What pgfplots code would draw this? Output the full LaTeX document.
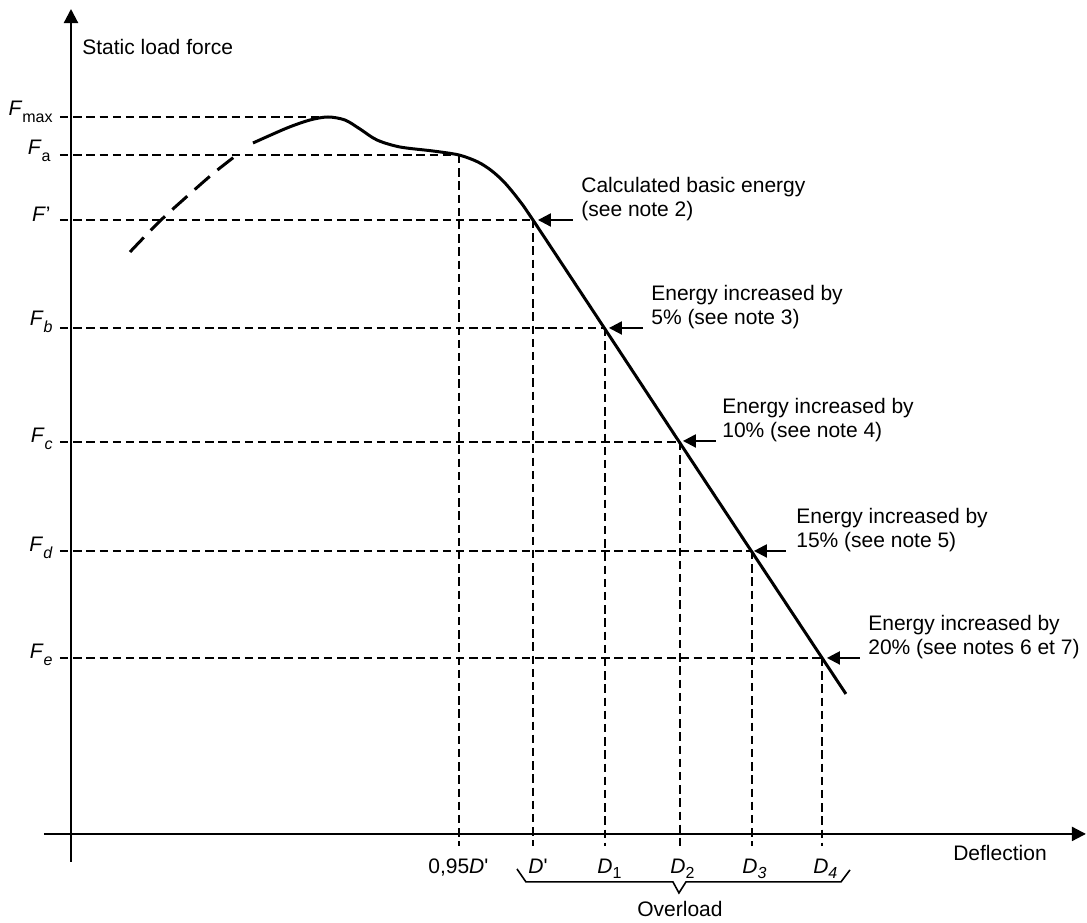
\documentclass[border=0pt]{standalone}
\usepackage{fontspec}
\setmainfont{Liberation Sans}
\usepackage{pgfplots}
\pgfplotsset{compat=1.18}
\usetikzlibrary{arrows.meta}
\newcommand{\Dq}{\textit{D}\textquotesingle}
\newcommand{\fsub}[1]{\raisebox{-3.4pt}{\fontsize{8pt}{8pt}\selectfont #1}}
\newcommand{\dsub}[1]{\raisebox{-2.2pt}{\fontsize{8pt}{8pt}\selectfont #1}}
\begin{document}
\begin{tikzpicture}[
    font=\fontsize{10.5pt}{12pt}\selectfont,
    guide/.style={line width=1pt, dash pattern=on 4.2pt off 2.4pt},
    note/.style={line width=1.1pt, -{Triangle[length=6.5pt,width=6.5pt]}},
    txt/.style={anchor=base west, align=left, inner sep=0pt},
]
\begin{axis}[
    hide axis,
    x=0.5pt, y=0.5pt, y dir=reverse,
    xmin=0, xmax=1087, ymin=0, ymax=923,
    clip=false,
    every axis plot/.append style={black, no markers},
]
% canvas
\addplot[draw=none] coordinates {(0,0) (1087,923)};

% axes
\addplot[line width=1.1pt, -{Triangle[length=7pt,width=7pt]}] coordinates {(71,862) (71,9)};
\addplot[line width=1.1pt, -{Triangle[length=7pt,width=7pt]}] coordinates {(44,834) (1086,834)};

% horizontal guides
\addplot[guide] coordinates {(60,117) (330,117)};
\addplot[guide] coordinates {(60,155) (459,155)};
\addplot[guide] coordinates {(60,220) (533,220)};
\addplot[guide] coordinates {(60,328) (605,328)};
\addplot[guide] coordinates {(60,442) (680,442)};
\addplot[guide] coordinates {(60,551) (752,551)};
\addplot[guide] coordinates {(60,658) (822,658)};

% vertical guides
\addplot[guide] coordinates {(459,155) (459,846)};
\addplot[guide] coordinates {(533,220) (533,846)};
\addplot[guide] coordinates {(605,328) (605,846)};
\addplot[guide] coordinates {(680,442) (680,846)};
\addplot[guide] coordinates {(752,551) (752,846)};
\addplot[guide] coordinates {(822,658) (822,846)};

% load curve, dashed start
\addplot[line width=1.5pt, smooth, dash pattern=on 10pt off 5pt] coordinates {
    (130,252) (160,221) (192,192) (215,172) (238,154)};
% load curve, solid
\addplot[line width=1.5pt, smooth, tension=0.5] coordinates {
    (253,143) (287,128) (310,120) (328,117) (345,120) (360,129) (377,140)
    (400,147) (433,151) (459,155) (478,162) (492,171) (505,183) (519,200)
    (533,220) (605,329) (680,443) (752,552) (846,694)};

% note arrows
\addplot[note] coordinates {(573,220) (538,220)};
\addplot[note] coordinates {(643,328) (609,328)};
\addplot[note] coordinates {(716,441) (683,441)};
\addplot[note] coordinates {(786,551) (754,551)};
\addplot[note] coordinates {(860,658) (827,658)};

% overload brace
\addplot[line width=0.8pt] coordinates {
    (517,869) (526,882) (673,882) (679,893) (686,882) (841,882) (850,870)};

% texts
\node[txt] at (axis cs:82,54) {Static load force};
\node[txt] at (axis cs:953,861) {Deflection};
\node[anchor=base, inner sep=0pt] at (axis cs:680,917) {Overload};

\node[txt] at (axis cs:581,216.5) {Calculated basic energy\\(see note 2)};
\node[txt] at (axis cs:651,324.5) {Energy increased by\\5\% (see note 3)};
\node[txt] at (axis cs:722,437.5) {Energy increased by\\10\% (see note 4)};
\node[txt] at (axis cs:796,547.5) {Energy increased by\\15\% (see note 5)};
\node[txt] at (axis cs:868,654.5) {Energy increased by\\20\% (see notes 6 et 7)};

% force labels
\node[anchor=base east, inner sep=0pt] at (axis cs:53,116) {\textit{F}\fsub{max}};
\node[anchor=base east, inner sep=0pt] at (axis cs:51,155) {\textit{F}\fsub{a}};
\node[anchor=base east, inner sep=0pt] at (axis cs:51,222) {\textit{F}’};
\node[anchor=base east, inner sep=0pt] at (axis cs:53,326) {\textit{F}\fsub{\textit{b}}};
\node[anchor=base east, inner sep=0pt] at (axis cs:53,443) {\textit{F}\fsub{\textit{c}}};
\node[anchor=base east, inner sep=0pt] at (axis cs:53,552) {\textit{F}\fsub{\textit{d}}};
\node[anchor=base east, inner sep=0pt] at (axis cs:53,659) {\textit{F}\fsub{\textit{e}}};

% deflection labels
\node[txt] at (axis cs:428,874) {0,95\Dq};
\node[txt] at (axis cs:528,874) {\Dq};
\node[txt] at (axis cs:597,874) {\textit{D}\dsub{1}};
\node[txt] at (axis cs:670,874) {\textit{D}\dsub{2}};
\node[txt] at (axis cs:742,874) {\textit{D}\dsub{\textit{3}}};
\node[txt] at (axis cs:813,874) {\textit{D}\dsub{\textit{4}}};
\end{axis}
\end{tikzpicture}
\end{document}
